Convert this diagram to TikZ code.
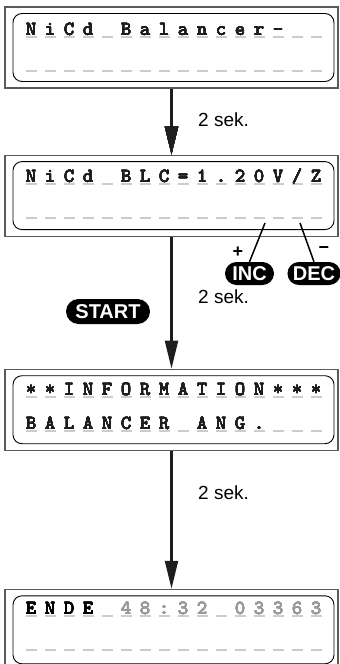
\documentclass[tikz,border=0pt]{standalone}
\usepackage{fontspec}
\usepackage{tikz}
\usetikzlibrary{positioning,arrows.meta,shapes.misc}
\newfontfamily\tagfont{Liberation Sans}
\definecolor{lcdink}{HTML}{1E1E1E}
\definecolor{lcdgrey}{HTML}{9A9A9A}
\definecolor{cellgrey}{HTML}{CCCCCC}
\definecolor{framegrey}{HTML}{5A5A5A}
\tikzset{
 display/.style={draw=framegrey, line width=1.1pt, minimum width=333pt, minimum height=81pt, inner sep=0pt},
 screen/.style={draw=black, line width=0.9pt, rounded corners=9pt, minimum width=321pt, minimum height=68pt, inner sep=0pt},
 lcdchar/.style={anchor=base, inner sep=0pt, font=\ttfamily\bfseries\fontsize{20}{20}\selectfont},
 cell/.style={draw=cellgrey, line width=1.3pt},
 flow/.style={line width=2.2pt, draw=lcdink, -{Triangle[length=28pt,width=13pt]}},
 wait/.style={anchor=west, inner sep=0pt, font=\tagfont\fontsize{19}{19}\selectfont},
 key/.style={rounded rectangle, fill=black, text=white, inner xsep=3pt, inner ysep=0pt, minimum height=23pt, font=\tagfont\bfseries\fontsize{20}{20}\selectfont},
 sign/.style={inner sep=0pt, font=\tagfont\bfseries\fontsize{18}{18}\selectfont}
}
% one row of the display: #1 name, #2 baseline, #3 first cell, #4 colour, #5 chars
\newcommand{\lcdrow}[5]{%
 \foreach \ch [count=\k from #3] in {#5}
  \node[lcdchar, text=#4] (#1-\k) at (31+19*\k,#2) {\ch};
}
% grey cell marks under the 16 places of a row
\newcommand{\lcdcells}[1]{%
 \foreach \k in {0,...,15}
  \draw[cell] (25.5+19*\k,#1+2) -- ++(11,0);
}

\begin{document}
\begin{tikzpicture}[x=1pt,y=-1pt]
\useasboundingbox (0,0) rectangle (340,664);
\node[display] (d1) at (171.5,47.5) {};
\node[display, below=66pt of d1] (d2) {};
\node[display, below=132pt of d2] (d3) {};
\node[display, below=138pt of d3] (d4) {};
\foreach \d in {d1,d2,d3,d4}
 \node[screen] (\d in) at ([xshift=2pt]\d.center) {};
%----------------------------------
\foreach \y in {35,69,182,216,395,429,614,648} \lcdcells{\y}
\lcdrow{ra}{35}{0}{lcdink}{N,i,C,d,{},B,a,l,a,n,c,e,r,-}
\lcdrow{rb}{182}{0}{lcdink}{N,i,C,d,{},B,L,C,=,1,.,2,0,V,/,Z}
\lcdrow{rc}{395}{0}{lcdink}{*,*,I,N,F,O,R,M,A,T,I,O,N,*,*,*}
\lcdrow{rd}{429}{0}{lcdink}{B,A,L,A,N,C,E,R,{},A,N,G,.}
\lcdrow{re}{614}{0}{black}{E,N,D,E}
\lcdrow{rf}{614}{5}{lcdgrey}{4,8,:,3,2,{},0,3,3,6,3}
%----------------------------------
\draw[flow] (d1) -- (d2);
\draw[flow] (d2) -- (d3);
\draw[flow] (d3) -- (d4);
\node[wait] (w1) at (198,120) {2 sek.};
\node[wait] (w2) at (198,297) {2 sek.};
\node[wait] (w3) at (198,493) {2 sek.};
%---------------------------------
\node[key, minimum width=55pt] (inc) at (249.5,273.5) {INC};
\node[key, minimum width=53pt] (dec) at (314,273.5) {DEC};
\node[key, minimum width=90pt, minimum height=25pt] (start) at (108,311.5) {START};
\coordinate (incpin) at (265,223);
\coordinate (decpin) at (300,223);
\draw[line width=1.5pt] (incpin) -- (inc.north);
\draw[line width=1.5pt] (decpin) -- (dec.north);
\node[sign] (plus) at (238,252) {+};
\node[sign] (minus) at (324,250) {−};
\end{tikzpicture}
\end{document}
